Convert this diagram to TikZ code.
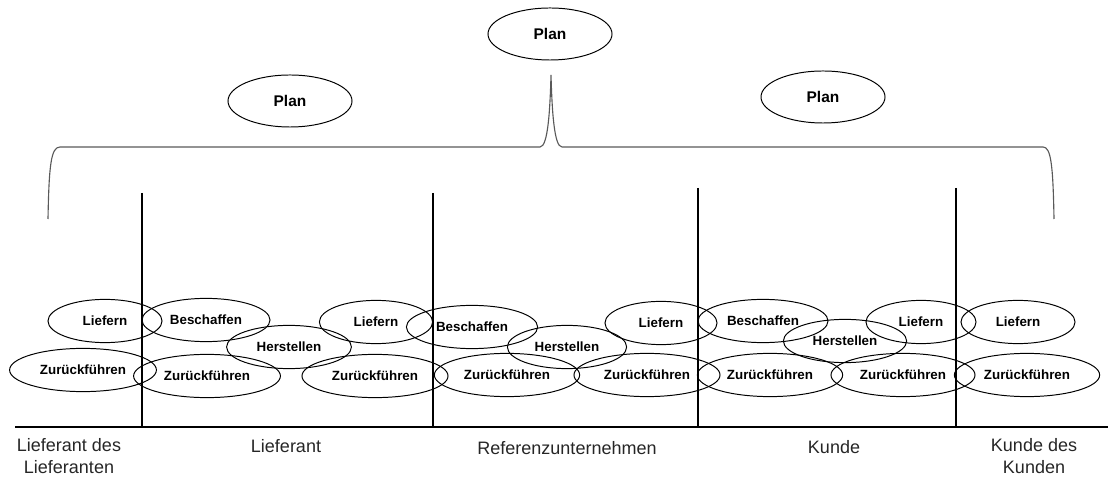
\documentclass[tikz,border=0pt]{standalone}
\usepackage{fontspec}
\setmainfont{Liberation Sans}
\usetikzlibrary{shapes.geometric}
\tikzset{procnode/.style={ellipse,draw,line width=0.7pt,inner sep=0pt,minimum height=1.08cm,font=\fontsize{9.5}{11}\selectfont\bfseries}}
\tikzset{plannode/.style={ellipse,draw,line width=0.7pt,inner sep=0pt,minimum width=3.1cm,minimum height=1.3cm,font=\fontsize{11}{13}\selectfont\bfseries}}
\tikzset{stufe/.style={align=center,text=black!85,font=\fontsize{12.8}{15.6}\selectfont}}

\begin{document}
\begin{tikzpicture}[x=0.025cm, y=-0.025cm]

\useasboundingbox (0,0) rectangle (1108,477);

  % plan nodes
  \node [style = plannode] (plantop) at (550, 34) {Plan};
  \node [style = plannode] (planleft) at (290, 101) {Plan};
  \node [style = plannode] (planright) at (823, 97) {Plan};

  % brace
  \draw [line width=0.8pt, black!65] (48,219) .. controls (49,165) and (51,147) .. (60,147)
    -- (540,147) .. controls (548,147) and (550,110) .. (551,75)
    .. controls (552,110) and (554,147) .. (562,147)
    -- (1043,147) .. controls (1051,147) and (1053,165) .. (1054,219);

  % nodes, first row
  \node [style = procnode, minimum width=2.85cm] (lief1) at (105, 321) {Liefern};
  \node [style = procnode, minimum width=3.2cm] (besch1) at (206, 320) {Beschaffen};
  \node [style = procnode, minimum width=2.83cm] (lief2) at (376, 322) {Liefern};
  \node [style = procnode, minimum width=3.28cm] (besch2) at (472, 327) {Beschaffen};
  \node [style = procnode, minimum width=2.8cm] (lief3) at (661, 323) {Liefern};
  \node [style = procnode, minimum width=3.25cm] (besch3) at (763, 321) {Beschaffen};
  \node [style = procnode, minimum width=2.75cm] (lief4) at (921, 322) {Liefern};
  \node [style = procnode, minimum width=2.85cm] (lief5) at (1018, 322) {Liefern};

  % nodes, herstellen
  \node [style = procnode, minimum width=3.12cm] (herst1) at (289, 347) {Herstellen};
  \node [style = procnode, minimum width=2.98cm] (herst2) at (567, 347) {Herstellen};
  \node [style = procnode, minimum width=3.08cm] (herst3) at (845, 341) {Herstellen};

  % nodes, zurueckfuehren
  \node [style = procnode, minimum width=3.67cm] (zur1) at (83, 370) {Zurückführen};
  \node [style = procnode, minimum width=3.67cm] (zur2) at (207, 376) {Zurückführen};
  \node [style = procnode, minimum width=3.65cm] (zur3) at (375, 376) {Zurückführen};
  \node [style = procnode, minimum width=3.63cm] (zur4) at (507, 375) {Zurückführen};
  \node [style = procnode, minimum width=3.65cm] (zur5) at (647, 375) {Zurückführen};
  \node [style = procnode, minimum width=3.63cm] (zur6) at (770, 375) {Zurückführen};
  \node [style = procnode, minimum width=3.6cm] (zur7) at (903, 375) {Zurückführen};
  \node [style = procnode, minimum width=3.63cm] (zur8) at (1027, 375) {Zurückführen};

  % separators
  \draw [line width=1.4pt] (15,427) -- (1108,427);
  \draw [line width=1.4pt] (142,193) -- (142,427);
  \draw [line width=1.4pt] (433,193) -- (433,427);
  \draw [line width=1.4pt] (698,188) -- (698,427);
  \draw [line width=1.4pt] (956,188) -- (956,427);

  % labels
  \node [style = stufe] (lieflief) at (69, 456) {Lieferant des\\Lieferanten};
  \node [style = stufe] (lieferant) at (286, 446) {Lieferant};
  \node [style = stufe] (referenz) at (567, 448) {Referenzunternehmen};
  \node [style = stufe] (kunde) at (834, 447) {Kunde};
  \node [style = stufe] (kundkund) at (1034, 456) {Kunde des\\Kunden};

\end{tikzpicture}
\end{document}
